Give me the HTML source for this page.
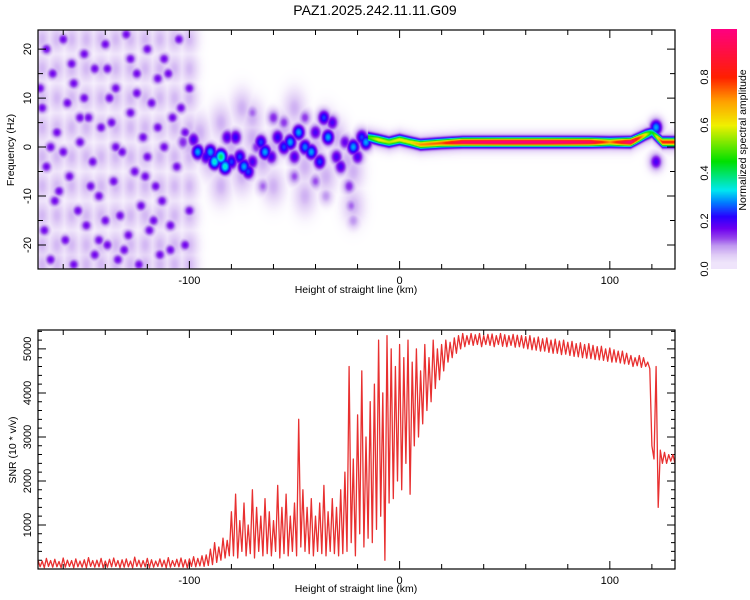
<!DOCTYPE html>
<html><head><meta charset="utf-8"><style>
html,body{margin:0;padding:0;background:#fff;width:750px;height:600px;overflow:hidden}
svg text{font-family:"Liberation Sans",sans-serif;fill:#000}
#spec{position:absolute;left:38px;top:30px}
#cbar{position:absolute;left:711px;top:29px}
</style></head><body>
<canvas id="spec" width="637" height="239"></canvas>
<canvas id="cbar" width="26" height="240"></canvas>
<svg id="svg" width="750" height="600" style="position:absolute;left:0;top:0">
<text x="375" y="15" font-size="14" text-anchor="middle">PAZ1.2025.242.11.11.G09</text>
<text x="356" y="293" font-size="10.5" text-anchor="middle">Height of straight line (km)</text>
<text x="356" y="592" font-size="10.5" text-anchor="middle">Height of straight line (km)</text>
<text transform="translate(14,150) rotate(-90)" font-size="10.5" text-anchor="middle">Frequency (Hz)</text>
<text transform="translate(16,450) rotate(-90)" font-size="10.5" text-anchor="middle">SNR (10 * v/v)</text>
<text transform="translate(746,140) rotate(-90)" font-size="10.5" text-anchor="middle">Normalized spectral amplitude</text>
<g id="g"></g>
</svg>
<script>
// ---- data ----
const xMin=-172, xMax=131;
const fMin=-24.9, fMax=23.9;
const sMin=0, sMax=5430;
const xTickLabels=[-100,0,100];
const fTickLabels=[-20,-10,0,10,20];
const sTickLabels=[1000,2000,3000,4000,5000];
const cTickLabels=[0.0,0.2,0.4,0.6,0.8];
const dotX=[-168,-160,-150,-140,-130,-120,-112,-105,-165,-155,-145,-135,-125,-115,-100,-170,-158,-148,-138,-128,-118,-108,-163,-152,-142,-132,-122,-112,-102,-168,-157,-146,-136,-126,-116,-106,-164,-153,-143,-133,-123,-113,-100,-169,-159,-149,-139,-129,-119,-109,-166,-155,-145,-134,-124,-114,-102,-135,-150,-120,-140,-110,-160,-128,-171,-147,-117,-137,-156,-104,-162,-143,-125,-109,-152,-131,-115,-166,-139,-121];
const dotF=[20,22,19,21,23,20,18,22,15,13,16,12,15,14,12,8,9,6,10,7,9,6,3,1,4,-1,2,0,3,-4,-6,-3,-7,-5,-8,-4,-11,-13,-10,-14,-12,-11,-13,-17,-19,-16,-20,-18,-17,-21,-23,-24,-22,-23,-24,-22,-20,0,10,-2,-15,15,-1,18,12,-8,-15,5,17,8,-9,-19,11,-16,6,-21,4,0,16,-6];
const hazeX=[-170,-163,-156,-149,-142,-135,-128,-121,-114,-107,-100];
const hazeF=[22,16,10,4,-2,-8,-14,-20,-24];
const midX=[-103,-98,-96,-92,-90,-88,-85,-83,-80,-82,-78,-76,-74,-72,-70,-68,-66,-64,-61,-58,-55,-52,-50,-48,-45,-42,-40,-38,-36,-34,-32,-30,-28,-26,-24,-23,-22,-20,-18,-16,-60,-55,-45,-40,-65,-70,-50,-22,-35,122,122];
const midF=[1,1.5,-1,-2,-1,-3,-2,-4,-3,2,2,-2,-4,-5,-3,0,1,-1,-2,2,0,1,-2,3,0,-1,3,-3,6,2,5,-2,-4,1,-8,-12,0,-2,2,1,6,5,6,-7,-8,7,-6,-15,-10,-3,4];
const midA=[0.15,0.2,0.3,0.22,0.3,0.35,0.4,0.35,0.25,0.2,0.22,0.25,0.3,0.25,0.2,0.15,0.25,0.3,0.2,0.22,0.25,0.3,0.2,0.3,0.28,0.3,0.2,0.25,0.25,0.3,0.2,0.2,0.2,0.18,0.15,0.12,0.3,0.2,0.25,0.3,0.15,0.14,0.14,0.13,0.12,0.12,0.13,0.1,0.1,0.2,0.3];
const mhazeX=[-95,-90,-85,-80,-75,-70,-65,-60,-55,-50,-45,-40,-35,-30,-25,-22,-22,-60,-45,-75,-50,-35,-100,-85,-70];
const mhazeF=[3,-3,5,0,-6,2,-3,0,4,2,-4,0,4,2,-3,-5,-12,-8,-10,8,8,-6,0,-8,6];
const lineX=[-15,-10,-5,0,5,10,20,30,50,70,90,100,110,117,120,125,131];
const lineF=[2,1.5,1,1.5,1,0.5,0.8,1,1,1,1,1,1,2.5,3,1,1];
const lineA=[0.35,0.5,0.45,0.5,0.5,0.6,0.65,0.85,0.9,0.9,0.85,0.6,0.9,0.5,0.3,0.7,0.7];
const snrHi=[200,180,240,190,220,170,250,200,190,230,180,210,260,190,200,240,180,220,250,190,210,230,180,270,200,190,240,210,180,230,200,260,190,220,250,210,230,280,240,300,320,
450,600,500,700,650,
1300,1700,1100,1500,1000,1800,1400,1200,1600,1300,1100,1900,1400,1700,1200,
1500,3400,1800,1400,1600,1200,1500,1900,1300,1600,1400,1800,
2200,4600,2500,3500,4500,3000,3800,
4200,5200,4000,5300,
5000,4600,5100,4800,5200,4700,5000,4500,5100,4800,5200,5000,
5100,5200,5150,5250,5300,
5350,5300,5350,5320,5350,5300,5330,5340,5300,5350,5320,5300,5330,5310,5300,
5280,5300,5250,5270,5230,5250,5200,5220,5180,5200,5150,5170,5120,5140,5100,5120,5080,5050,5060,5000,5020,4980,4950,4950,4900,
4850,4800,4850,4800,4700,
2800,4600,2700,2650,2600,2600];
const snrLo=[50,30,60,40,50,30,40,60,30,50,40,30,60,40,50,30,40,50,60,30,40,50,30,60,40,50,30,40,60,50,30,40,60,50,40,30,60,50,70,60,80,
100,150,200,250,300,
300,250,400,300,350,250,400,300,350,300,400,250,350,300,400,
300,500,400,350,300,400,350,300,400,350,300,350,
400,600,300,800,500,700,600,
900,1200,200,1500,
1600,2000,1800,2400,1700,2800,3000,3300,3600,3800,4100,4300,
4500,4700,4800,4900,5000,
5050,5100,5080,5100,5050,5100,5080,5050,5100,5060,5050,5080,5040,5050,5020,
5000,4980,4970,4950,4950,4920,4900,4900,4870,4880,4850,4830,4820,4800,4790,4780,4760,4750,4740,4720,4700,4700,4680,4660,4650,
4600,4620,4580,4600,4550,
2500,1400,2400,2400,2450,2400];

const PX0=38,PX1=675, T0=30,T1=269, B0=330,B1=569;
const sx=v=>PX0+(v-xMin)/(xMax-xMin)*(PX1-PX0);
const sfy=v=>T0+(fMax-v)/(fMax-fMin)*(T1-T0);
const ssy=v=>B0+(sMax-v)/(sMax-sMin)*(B1-B0);

const stops=[[0,[255,255,255]],[0.02,[244,236,252]],[0.06,[224,204,246]],[0.1,[190,150,240]],[0.13,[150,70,235]],[0.17,[110,0,240]],[0.22,[40,0,255]],[0.28,[0,128,255]],[0.33,[0,232,240]],[0.45,[0,224,0]],[0.6,[240,240,0]],[0.7,[255,160,0]],[0.8,[255,32,0]],[1,[255,0,128]]];
function cmap(v){v=Math.max(0,Math.min(1,v));for(let i=1;i<stops.length;i++){if(v<=stops[i][0]){const a=stops[i-1],b=stops[i],t=(v-a[0])/(b[0]-a[0]);return a[1].map((c,k)=>c+(b[1][k]-c)*t);}}return stops[stops.length-1][1];}

const blobs=[];
hazeX.forEach(x=>hazeF.forEach(f=>blobs.push([x,f,0.075,3,2.2])));
dotX.forEach((x,i)=>blobs.push([x,dotF[i],0.17,2,0.9]));
midX.forEach((x,i)=>blobs.push([x,midF[i],midA[i],2.2,1.2]));
mhazeX.forEach((x,i)=>blobs.push([x,mhazeF[i],0.08,3.5,2.5]));
const sc=document.getElementById('spec'),ctx=sc.getContext('2d');
const W=sc.width,H=sc.height,img=ctx.createImageData(W,H);
for(let px=0;px<W;px++){
  const x=xMin+(px+0.5)/W*(xMax-xMin);
  let lf=null,la=0;
  for(let k=1;k<lineX.length;k++){if(x>=lineX[k-1]&&x<=lineX[k]){const t=(x-lineX[k-1])/(lineX[k]-lineX[k-1]);lf=lineF[k-1]+(lineF[k]-lineF[k-1])*t;la=lineA[k-1]+(lineA[k]-lineA[k-1])*t;break;}}
  const near=blobs.filter(b=>Math.abs(b[0]-x)<b[3]*3.5);
  for(let py=0;py<H;py++){
    const f=fMax-(py+0.5)/H*(fMax-fMin);
    let a=0;
    for(const b of near){const dx=(x-b[0])/b[3],df=(f-b[1])/b[4];const v=b[2]*Math.exp(-0.5*(dx*dx+df*df));if(v>a)a=v;}
    if(lf!==null){const d=(f-lf);const v=la*Math.exp(-0.5*d*d/0.32)+0.12*Math.exp(-0.5*d*d/1.6);if(v>a)a=v;}
    const c=cmap(a),o=(py*W+px)*4;img.data[o]=c[0];img.data[o+1]=c[1];img.data[o+2]=c[2];img.data[o+3]=255;
  }
}
ctx.putImageData(img,0,0);
const cb=document.getElementById('cbar'),cc=cb.getContext('2d');
for(let py=0;py<240;py++){const c=cmap(Math.max(0.03,1-py/240));cc.fillStyle=`rgb(${c.map(Math.round).join(',')})`;cc.fillRect(0,py,26,1);}

const g=document.getElementById('g');const NS='http://www.w3.org/2000/svg';
function el(tag,attrs,text){const e=document.createElementNS(NS,tag);for(const k in attrs)e.setAttribute(k,attrs[k]);if(text!==undefined)e.textContent=text;g.appendChild(e);return e;}
let tk='';
for(const[y0,y1] of [[T0,T1],[B0,B1]]){
  for(let v=-160;v<=120;v+=20){const X=sx(v),L=(v%100===0)?8:5;tk+=`M${X} ${y1}v${-L}M${X} ${y0}v${L}`;}
}
for(let v=-20;v<=20;v+=5){const Y=sfy(v),L=(v%10===0)?8:5;tk+=`M${PX0} ${Y}h${L}M${PX1} ${Y}h${-L}`;}
for(let v=200;v<=5400;v+=200){const Y=ssy(v),L=(v%1000===0)?8:4;tk+=`M${PX0} ${Y}h${L}M${PX1} ${Y}h${-L}`;}
const ticks=el('path',{d:tk,stroke:'#000','stroke-width':1,fill:'none'});


let d='';
snrHi.forEach((h,i)=>{const x=xMin+2*i;d+=(i?'L':'M')+sx(x).toFixed(1)+' '+ssy(h).toFixed(1)+'L'+sx(x+1).toFixed(1)+' '+ssy(snrLo[i]).toFixed(1);});
const ln=el('path',{d:d,stroke:'#e83030','stroke-width':1.3,fill:'none','stroke-linejoin':'round'});


for(const[y0,y1] of [[T0,T1],[B0,B1]]){
  const fr=el('rect',{x:PX0,y:y0,width:PX1-PX0,height:y1-y0,fill:'none',stroke:'#000','stroke-width':1.2});
  
  
}
xTickLabels.forEach(v=>{for(const y of [T1+15,B1+15]){const t=el('text',{x:sx(v),y:y,'font-size':11,'text-anchor':'middle'},String(v));}});
fTickLabels.forEach(v=>{const t=el('text',{transform:`translate(31,${sfy(v)}) rotate(-90)`,'font-size':11,'text-anchor':'middle'},String(v));});
sTickLabels.forEach(v=>{const t=el('text',{transform:`translate(31,${ssy(v)}) rotate(-90)`,'font-size':11,'text-anchor':'middle'},String(v));});
cTickLabels.forEach(v=>{const t=el('text',{transform:`translate(708,${269-v*240}) rotate(-90)`,'font-size':11,'text-anchor':'middle'},v.toFixed(1));});
</script>
</body></html>
